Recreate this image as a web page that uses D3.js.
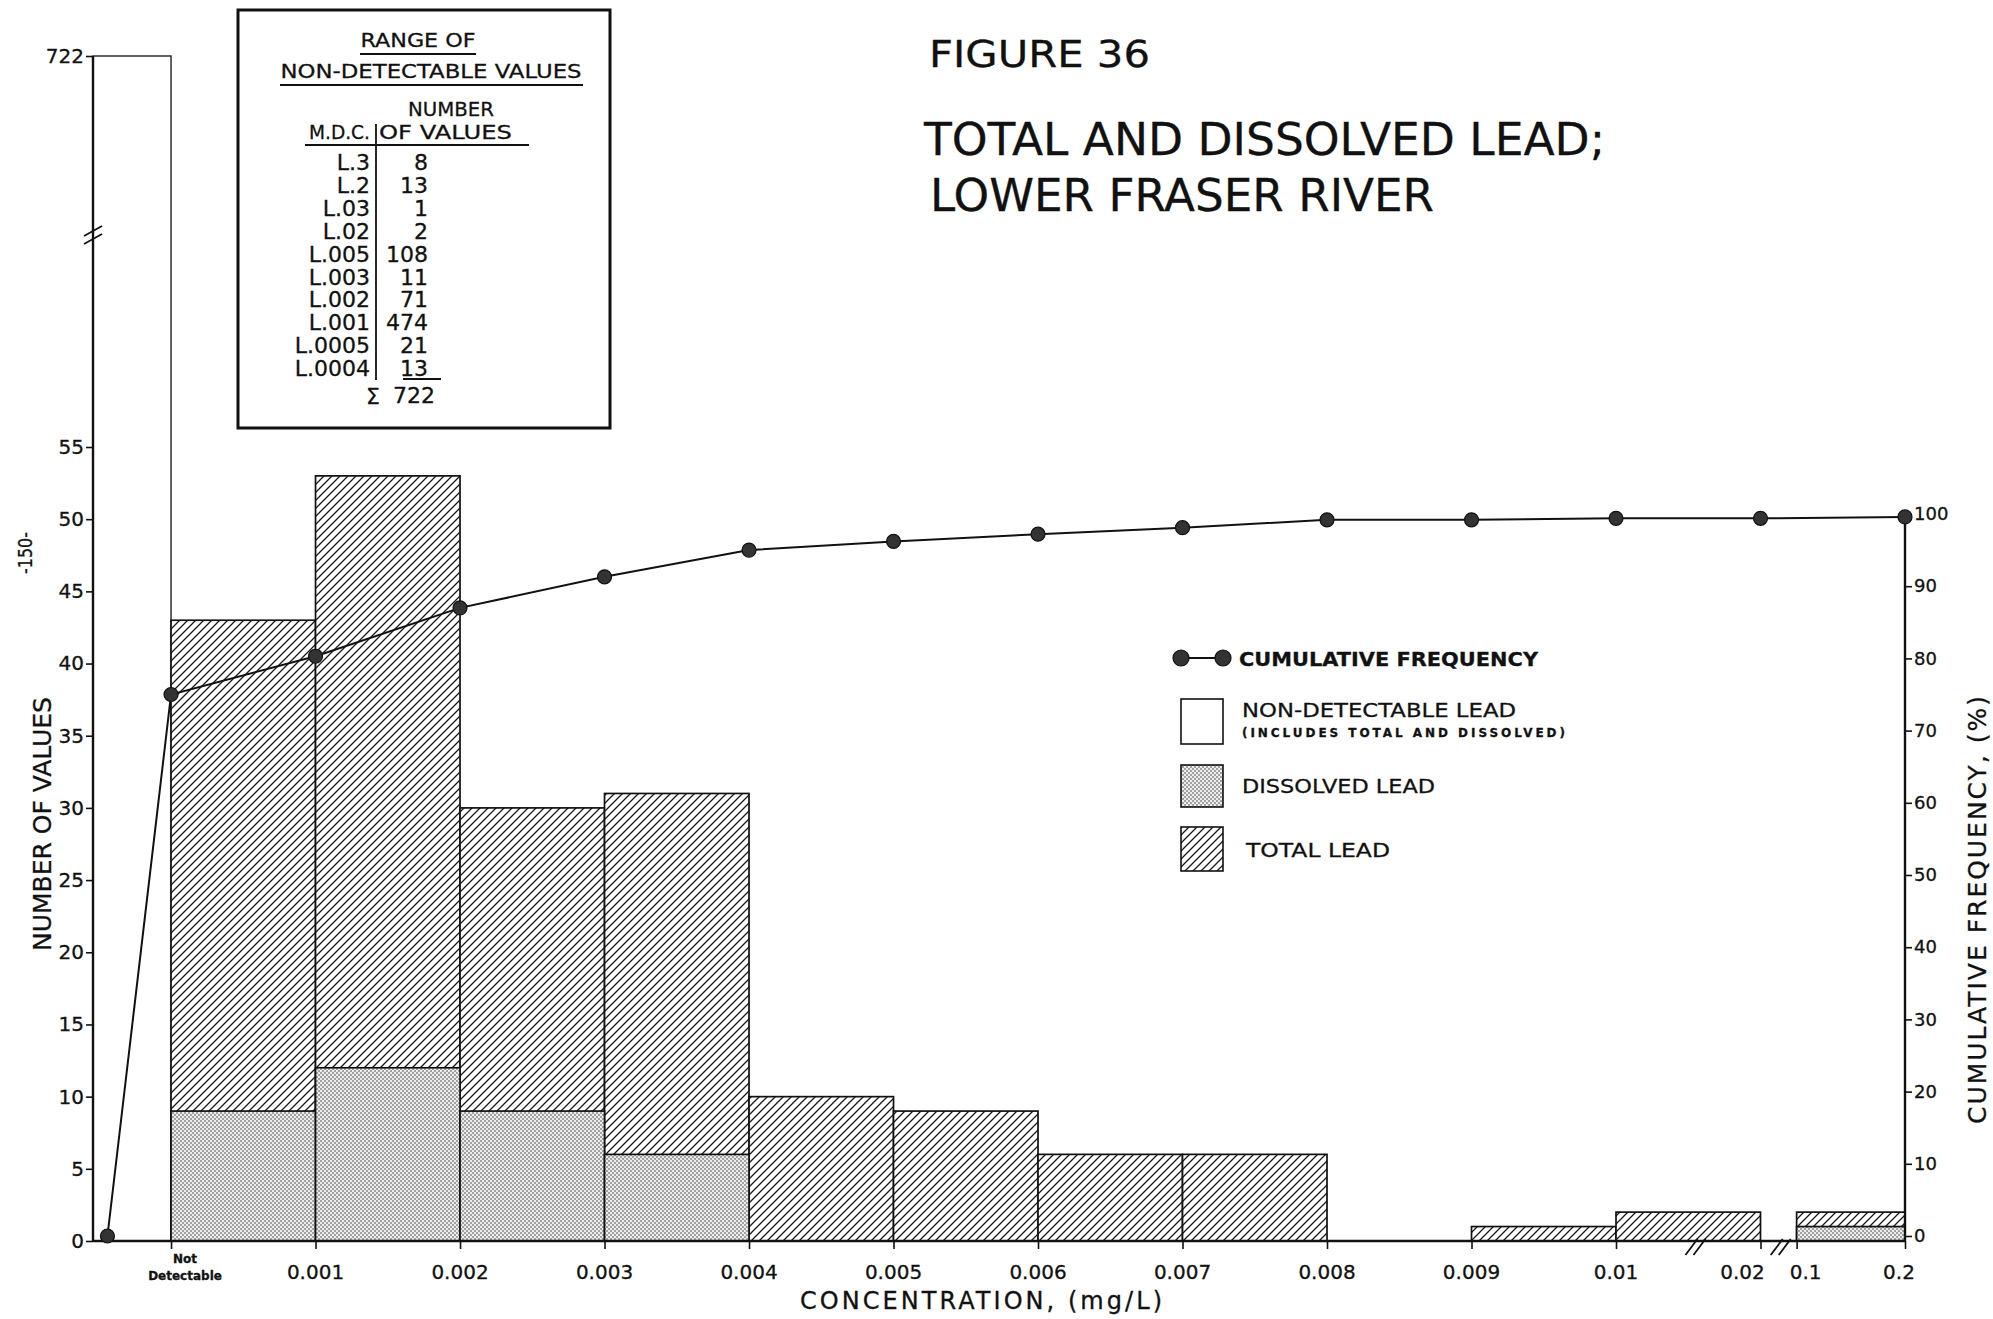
<!DOCTYPE html>
<html><head><meta charset="utf-8">
<script src="https://cdn.jsdelivr.net/npm/d3@7"></script>
<style>
html,body{margin:0;padding:0;background:#fff;}
svg{display:block;}
text{font-family:"DejaVu Sans",sans-serif;fill:#111;stroke:#111;stroke-width:0.3px;}
</style></head>
<body><svg id="chart" width="1993" height="1319"></svg>
<script>
// ---------- DATA ----------
const figureLabel = "FIGURE 36";
const titleLines = ["TOTAL AND DISSOLVED LEAD;", "LOWER FRASER RIVER"];
const binStart = [0, 1, 2, 3, 4, 5, 6, 7, 8, 9, 10, 11.25];
const binEnd   = [1, 2, 3, 4, 5, 6, 7, 8, 9, 10, 11, 12];
const totalLead     = [43, 53, 30, 31, 10, 9, 6, 6, 0, 1, 2, 2];
const dissolvedLead = [9, 12, 9, 6, 0, 0, 0, 0, 0, 0, 0, 1];
const nonDetectable = 722;
const xTickPos    = [1, 2, 3, 4, 5, 6, 7, 8, 9, 10, 11, 11.25, 12];
const xTickLabels = ["0.001","0.002","0.003","0.004","0.005","0.006","0.007","0.008","0.009","0.01","0.02","0.1","0.2"];
const cumPos  = [-0.44, 0, 1, 2, 3, 4, 5, 6, 7, 8, 9, 10, 11, 12];
const cumFreq = [0, 75, 80.3, 87, 91.3, 95, 96.2, 97.2, 98.1, 99.2, 99.2, 99.4, 99.4, 99.6];
const leftTicks  = [0, 5, 10, 15, 20, 25, 30, 35, 40, 45, 50, 55, 722];
const rightTicks = [0, 10, 20, 30, 40, 50, 60, 70, 80, 90, 100];
const mdcLabels = ["L.3","L.2","L.03","L.02","L.005","L.003","L.002","L.001","L.0005","L.0004"];
const mdcCounts = ["8","13","1","2","108","11","71","474","21","13"];
const mdcTotal = "722";

// ---------- SETUP ----------
const svg = d3.select("#chart");
const defs = svg.append("defs");
const hatch = defs.append("pattern").attr("id","hatch").attr("patternUnits","userSpaceOnUse")
  .attr("width",8).attr("height",8);
hatch.append("rect").attr("width",8).attr("height",8).attr("fill","#fff");
hatch.append("path").attr("d","M-1,1 L1,-1 M0,8 L8,0 M7,9 L9,7").attr("stroke","#1a1a1a").attr("stroke-width",1.3);
const stip = defs.append("pattern").attr("id","stipple").attr("patternUnits","userSpaceOnUse")
  .attr("width",4).attr("height",4);
stip.append("rect").attr("width",4).attr("height",4).attr("fill","#ececec");
stip.append("circle").attr("cx",1).attr("cy",1).attr("r",0.8).attr("fill","#444");
stip.append("circle").attr("cx",3).attr("cy",3).attr("r",0.8).attr("fill","#444");

const x = d3.scaleLinear().domain([-0.54, 12]).range([93, 1905]);
const yL = d3.scaleLinear().domain([0, 55, 722]).range([1241, 447, 56]);
const yR = d3.scaleLinear().domain([0, 100]).range([1236, 514]);

// ---------- BARS ----------
const g = svg.append("g");
g.append("rect").attr("x", x(-0.54)).attr("y", yL(nonDetectable))
  .attr("width", x(0) - x(-0.54)).attr("height", yL(0) - yL(nonDetectable))
  .attr("fill","#fff").attr("stroke","#111").attr("stroke-width",1.3);

const bins = totalLead.map((t,i)=>({s:binStart[i], e:binEnd[i], t, d:dissolvedLead[i]}));
g.selectAll("rect.total").data(bins.filter(b=>b.t>0)).enter().append("rect").attr("class","total")
  .attr("x", d=>x(d.s)).attr("y", d=>yL(d.t)).attr("width", d=>x(d.e)-x(d.s)).attr("height", d=>yL(0)-yL(d.t))
  .attr("fill","url(#hatch)").attr("stroke","#111").attr("stroke-width",1.7);
g.selectAll("rect.diss").data(bins.filter(b=>b.d>0)).enter().append("rect").attr("class","diss")
  .attr("x", d=>x(d.s)).attr("y", d=>yL(d.d)).attr("width", d=>x(d.e)-x(d.s)).attr("height", d=>yL(0)-yL(d.d))
  .attr("fill","url(#stipple)").attr("stroke","#111").attr("stroke-width",1.7);

// ---------- AXES ----------
const axL = d3.axisLeft(yL).tickValues(leftTicks).tickSize(7).tickPadding(2).tickFormat(d3.format("d"));
const gL = svg.append("g").attr("transform",`translate(${x(-0.54)},0)`).call(axL);
gL.select(".domain").attr("stroke","#111").attr("stroke-width",2.4).attr("d",`M0,${yL(0)}V${yL(722)}`);
gL.selectAll(".tick line").attr("stroke","#111").attr("stroke-width",1.6);
gL.selectAll(".tick text").style("font-size","20px").attr("fill","#111").style("font-family","DejaVu Sans");

const axR = d3.axisRight(yR).tickValues(rightTicks).tickSize(7).tickPadding(2);
const gR = svg.append("g").attr("transform",`translate(${x(12)},0)`).call(axR);
gR.select(".domain").attr("stroke","#111").attr("stroke-width",2.4).attr("d",`M0,${yL(0)}V${yR(100)}`);
gR.selectAll(".tick line").attr("stroke","#111").attr("stroke-width",1.6);
gR.selectAll(".tick text").style("font-size","18px").attr("fill","#111").style("font-family","DejaVu Sans");

const axB = d3.axisBottom(x).tickValues([0].concat(xTickPos)).tickSize(8).tickFormat("");
const gB = svg.append("g").attr("transform",`translate(0,${yL(0)})`).call(axB);
gB.select(".domain").attr("stroke","#111").attr("stroke-width",2.6).attr("d",`M${x(-0.54)},0H${x(12)}`);
gB.selectAll(".tick line").attr("stroke","#111").attr("stroke-width",1.6);
const labelShift = {"0.02": -18, "0.1": 9, "0.2": -6};
svg.append("g").selectAll("text").data(xTickLabels).enter().append("text")
  .attr("x",(d,i)=>x(xTickPos[i]) + (labelShift[d]||0)).attr("y",yL(0)+38).attr("text-anchor","middle")
  .style("font-size","20px").text(d=>d);
svg.append("text").attr("x",x(0)+14).attr("y",yL(0)+22).attr("text-anchor","middle")
  .style("font-size","12px").style("font-weight","bold").text("Not");
svg.append("text").attr("x",x(0)+14).attr("y",yL(0)+39).attr("text-anchor","middle")
  .style("font-size","12px").style("font-weight","bold").text("Detectable");

// break marks
function brk(cx, cy){
  [-4,4].forEach(o=>svg.append("line").attr("x1",cx+o-6).attr("y1",cy+8).attr("x2",cx+o+6).attr("y2",cy-8)
    .attr("stroke","#111").attr("stroke-width",1.8));
}
brk(x(10.55), yL(0)+6);
brk(x(11.14), yL(0)+6);
[-4,4].forEach(o=>svg.append("line").attr("x1",x(-0.54)-9).attr("y1",235+o+5).attr("x2",x(-0.54)+9).attr("y2",235+o-5)
  .attr("stroke","#111").attr("stroke-width",1.8));

// ---------- CUMULATIVE LINE ----------
const cum = cumPos.map((p,i)=>({p, v:cumFreq[i]}));
svg.append("path").datum(cum).attr("fill","none").attr("stroke","#111").attr("stroke-width",2)
  .attr("d", d3.line().x(d=>x(d.p)).y(d=>yR(d.v)));
svg.append("g").selectAll("circle").data(cum).enter().append("circle")
  .attr("cx",d=>x(d.p)).attr("cy",d=>yR(d.v)).attr("r",7)
  .attr("fill","#333").attr("stroke","#111").attr("stroke-width",1.2);

// ---------- AXIS TITLES ----------
svg.append("text").attr("transform","translate(51,824) rotate(-90)").attr("text-anchor","middle")
  .style("font-size","25px").attr("textLength",254).attr("lengthAdjust","spacing").text("NUMBER OF VALUES");
svg.append("text").attr("transform","translate(32,553) rotate(-90)").attr("text-anchor","middle")
  .style("font-size","20px").attr("textLength",42).attr("lengthAdjust","spacingAndGlyphs").text("-150-");
svg.append("text").attr("transform","translate(1986,910) rotate(-90)").attr("text-anchor","middle")
  .style("font-size","25px").attr("textLength",428).attr("lengthAdjust","spacing").text("CUMULATIVE FREQUENCY, (%)");
svg.append("text").attr("x",981).attr("y",1309).attr("text-anchor","middle")
  .style("font-size","24px").attr("textLength",362).attr("lengthAdjust","spacing").text("CONCENTRATION, (mg/L)");

// ---------- TITLES ----------
svg.append("text").attr("x",929).attr("y",67).style("font-size","37px")
  .attr("textLength",221).attr("lengthAdjust","spacingAndGlyphs").text(figureLabel);
svg.append("text").attr("x",924).attr("y",155).style("font-size","45px")
  .attr("textLength",681).attr("lengthAdjust","spacingAndGlyphs").text(titleLines[0]);
svg.append("text").attr("x",930).attr("y",211).style("font-size","45px")
  .attr("textLength",504).attr("lengthAdjust","spacingAndGlyphs").text(titleLines[1]);

// ---------- INSET TABLE ----------
const ins = svg.append("g");
ins.append("rect").attr("x",238).attr("y",10).attr("width",372).attr("height",418)
  .attr("fill","#fff").attr("stroke","#111").attr("stroke-width",3);
ins.append("text").attr("x",418).attr("y",47).attr("text-anchor","middle").style("font-size","20px")
  .attr("textLength",115).attr("lengthAdjust","spacingAndGlyphs").text("RANGE OF");
ins.append("line").attr("x1",360).attr("x2",476).attr("y1",54).attr("y2",54).attr("stroke","#111").attr("stroke-width",1.8);
ins.append("text").attr("x",431).attr("y",78).attr("text-anchor","middle").style("font-size","20px")
  .attr("textLength",301).attr("lengthAdjust","spacingAndGlyphs").text("NON-DETECTABLE VALUES");
ins.append("line").attr("x1",280).attr("x2",583).attr("y1",85).attr("y2",85).attr("stroke","#111").attr("stroke-width",1.8);
ins.append("text").attr("x",451).attr("y",116).attr("text-anchor","middle").style("font-size","20px")
  .attr("textLength",86).attr("lengthAdjust","spacingAndGlyphs").text("NUMBER");
ins.append("text").attr("x",370).attr("y",139).attr("text-anchor","end").style("font-size","20px")
  .attr("textLength",61).attr("lengthAdjust","spacingAndGlyphs").text("M.D.C.");
ins.append("text").attr("x",379).attr("y",139).style("font-size","20px")
  .attr("textLength",133).attr("lengthAdjust","spacingAndGlyphs").text("OF VALUES");
ins.append("line").attr("x1",305).attr("x2",529).attr("y1",145).attr("y2",145).attr("stroke","#111").attr("stroke-width",2);
ins.append("line").attr("x1",376).attr("x2",376).attr("y1",124).attr("y2",380).attr("stroke","#111").attr("stroke-width",1.8);
ins.selectAll("text.mdc").data(mdcLabels).enter().append("text").attr("class","mdc")
  .attr("x",370).attr("y",(d,i)=>170+i*22.9).attr("text-anchor","end").style("font-size","22px").text(d=>d);
ins.selectAll("text.cnt").data(mdcCounts).enter().append("text").attr("class","cnt")
  .attr("x",428).attr("y",(d,i)=>170+i*22.9).attr("text-anchor","end").style("font-size","22px").text(d=>d);
ins.append("line").attr("x1",403).attr("x2",441).attr("y1",379).attr("y2",379).attr("stroke","#111").attr("stroke-width",1.8);
ins.append("text").attr("x",366).attr("y",404).style("font-size","22px").text("Σ");
ins.append("text").attr("x",393).attr("y",403).style("font-size","22px").text(mdcTotal);

// ---------- LEGEND ----------
const lg = svg.append("g");
lg.append("line").attr("x1",1181).attr("x2",1223).attr("y1",658).attr("y2",658).attr("stroke","#111").attr("stroke-width",2.2);
[1181,1223].forEach(cx=>lg.append("circle").attr("cx",cx).attr("cy",658).attr("r",8)
  .attr("fill","#333").attr("stroke","#111").attr("stroke-width",1.2));
lg.append("text").attr("x",1239).attr("y",666).style("font-size","20px").style("font-weight","bold")
  .attr("textLength",299).attr("lengthAdjust","spacingAndGlyphs").text("CUMULATIVE FREQUENCY");
lg.append("rect").attr("x",1181).attr("y",699).attr("width",42).attr("height",45).attr("fill","#fff").attr("stroke","#111").attr("stroke-width",1.6);
lg.append("text").attr("x",1242).attr("y",717).style("font-size","20px")
  .attr("textLength",274).attr("lengthAdjust","spacingAndGlyphs").text("NON-DETECTABLE LEAD");
lg.append("text").attr("x",1242).attr("y",737).style("font-size","12px").style("font-weight","bold")
  .attr("textLength",323).attr("lengthAdjust","spacing").text("(INCLUDES TOTAL AND DISSOLVED)");
lg.append("rect").attr("x",1181).attr("y",765).attr("width",42).attr("height",42).attr("fill","url(#stipple)").attr("stroke","#111").attr("stroke-width",1.6);
lg.append("text").attr("x",1242).attr("y",793).style("font-size","20px")
  .attr("textLength",193).attr("lengthAdjust","spacingAndGlyphs").text("DISSOLVED LEAD");
lg.append("rect").attr("x",1181).attr("y",827).attr("width",42).attr("height",44).attr("fill","url(#hatch)").attr("stroke","#111").attr("stroke-width",1.6);
lg.append("text").attr("x",1246).attr("y",857).style("font-size","20px")
  .attr("textLength",144).attr("lengthAdjust","spacingAndGlyphs").text("TOTAL LEAD");
</script></body></html>
